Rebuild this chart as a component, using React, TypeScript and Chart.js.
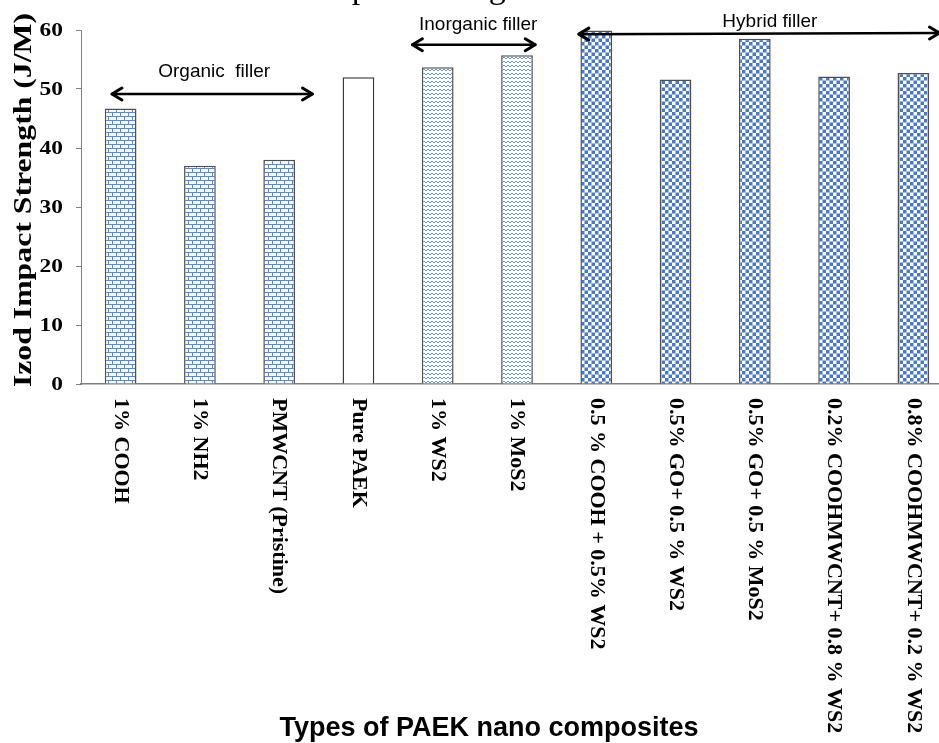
import React, { useEffect, useRef } from "react";
import { Chart, registerables } from "chart.js";

Chart.register(...registerables);

// ---- data ----
const categories = [
  "1% COOH",
  "1% NH2",
  "PMWCNT (Pristine)",
  "Pure PAEK",
  "1% WS2",
  "1% MoS2",
  "0.5 % COOH + 0.5% WS2",
  "0.5% GO+ 0.5 % WS2",
  "0.5% GO+ 0.5 % MoS2",
  "0.2% COOHMWCNT+ 0.8 % WS2",
  "0.8% COOHMWCNT+ 0.2 % WS2",
];
const impactStrength = [46.7, 37.0, 38.0, 52.0, 53.7, 55.7, 59.9, 51.6, 58.5, 52.1, 52.7];
const fillKinds = ["brick", "brick", "brick", "plain", "wave", "wave", "check", "check", "check", "check", "check"];
const yTicks = [0, 10, 20, 30, 40, 50, 60];
const yTitle = "Izod Impact Strength (J/M)";
const xTitle = "Types of PAEK nano composites";
const topTitle = "Impact Strength";
const groupLabels = ["Organic  filler", "Inorganic filler", "Hybrid filler"];
const groupArrowFrom = [-0.11, 3.68, 5.78];
const groupArrowTo = [2.42, 5.23, 10.33];
const groupArrowValL = [49.15, 57.5, 59.3];
const groupArrowValR = [49.15, 57.5, 59.5];
const groupTextIdx = [1.18, 4.51, 8.19];
const groupTextVal = [52.9, 60.85, 61.4];

const SERIF = '"Liberation Serif", "Times New Roman", serif';
const SANS = '"Liberation Sans", Arial, sans-serif';

function makePattern(kind: string): CanvasPattern | string {
  if (kind === "plain") return "#ffffff";
  const c = document.createElement("canvas");
  const g = c.getContext("2d")!;
  if (kind === "check") {
    c.width = 7; c.height = 7;
    g.fillStyle = "#ffffff"; g.fillRect(0, 0, 7, 7);
    g.fillStyle = "#4a78c2";
    g.fillRect(0, 0, 3.5, 3.5); g.fillRect(3.5, 3.5, 3.5, 3.5);
  } else if (kind === "brick") {
    c.width = 8; c.height = 8;
    g.fillStyle = "#f7faff"; g.fillRect(0, 0, 8, 8);
    g.strokeStyle = "#5a89cf"; g.lineWidth = 1;
    g.beginPath();
    g.moveTo(0, 0.5); g.lineTo(8, 0.5);
    g.moveTo(0, 4.5); g.lineTo(8, 4.5);
    g.moveTo(0.5, 0); g.lineTo(0.5, 4);
    g.moveTo(4.5, 4); g.lineTo(4.5, 8);
    g.stroke();
  } else if (kind === "wave") {
    c.width = 4; c.height = 4;
    g.fillStyle = "#ffffff"; g.fillRect(0, 0, 4, 4);
    g.strokeStyle = "#6b98d8"; g.lineWidth = 1;
    g.beginPath();
    g.moveTo(0, 1); g.lineTo(2, 3); g.lineTo(4, 1);
    g.stroke();
  }
  return g.createPattern(c, "repeat")!;
}

function drawArrow(ctx: CanvasRenderingContext2D, x1: number, y1: number, x2: number, y2: number) {
  ctx.save();
  ctx.strokeStyle = "#000";
  ctx.lineWidth = 2.5;
  ctx.lineCap = "round";
  ctx.lineJoin = "round";
  ctx.beginPath();
  ctx.moveTo(x1, y1);
  ctx.lineTo(x2, y2);
  ctx.stroke();
  const ang = Math.atan2(y2 - y1, x2 - x1);
  const L = 10, W = 6;
  const head = (x: number, y: number, a: number) => {
    const cx = Math.cos(a), sx = Math.sin(a);
    ctx.beginPath();
    ctx.moveTo(x - L * cx - W * -sx, y - L * sx - W * cx);
    ctx.lineTo(x, y);
    ctx.lineTo(x - L * cx + W * -sx, y - L * sx + W * cx);
    ctx.lineWidth = 3;
    ctx.stroke();
  };
  head(x2, y2, ang);
  head(x1, y1, ang + Math.PI);
  ctx.restore();
}

const textPlugin = {
  id: "customText",
  afterDraw(chart: any) {
    const ctx: CanvasRenderingContext2D = chart.ctx;
    const xs = chart.scales.x;
    const ys = chart.scales.y;
    const area = chart.chartArea;
    const catW = (area.right - area.left) / categories.length;
    const xAt = (idx: number) => xs.getPixelForValue(0) + idx * catW;

    ctx.save();
    ctx.fillStyle = "#000";

    // y tick labels
    ctx.font = `bold 18px ${SERIF}`;
    ctx.textAlign = "right";
    ctx.textBaseline = "middle";
    for (const v of yTicks) {
      const y = ys.getPixelForValue(v);
      ctx.save();
      ctx.translate(area.left - 18, y + 1);
      ctx.scale(1.3, 1);
      ctx.fillText(String(v), 0, 0);
      ctx.restore();
    }

    // y title
    ctx.save();
    ctx.font = `bold 25px ${SERIF}`;
    ctx.textAlign = "center";
    ctx.textBaseline = "middle";
    ctx.translate(25, (area.top + area.bottom) / 2 - 7);
    ctx.rotate(-Math.PI / 2);
    ctx.scale(1.27, 1);
    ctx.fillText(yTitle, 0, 0);
    ctx.restore();

    // x category labels (rotated, reading downward)
    ctx.font = `bold 22px ${SERIF}`;
    ctx.textAlign = "left";
    ctx.textBaseline = "middle";
    categories.forEach((lab, i) => {
      const x = xs.getPixelForValue(i);
      ctx.save();
      ctx.translate(x, area.bottom + 14);
      ctx.rotate(Math.PI / 2);
      ctx.fillText(lab, 0, 0);
      ctx.restore();
    });

    // x title
    ctx.font = `bold 27px ${SANS}`;
    ctx.textAlign = "center";
    ctx.textBaseline = "middle";
    ctx.fillText(xTitle, 489, 729);

    // top title (cut off above the canvas)
    ctx.font = `34px ${SERIF}`;
    ctx.textAlign = "left";
    ctx.textBaseline = "alphabetic";
    ctx.fillText(topTitle, 314, -2);

    // group annotations
    ctx.font = `19px ${SANS}`;
    ctx.textAlign = "center";
    ctx.textBaseline = "middle";
    groupLabels.forEach((lab, i) => {
      ctx.fillText(lab, xAt(groupTextIdx[i]), ys.getPixelForValue(groupTextVal[i]));
      drawArrow(
        ctx,
        xAt(groupArrowFrom[i]), ys.getPixelForValue(groupArrowValL[i]),
        xAt(groupArrowTo[i]), ys.getPixelForValue(groupArrowValR[i])
      );
    });

    ctx.restore();
  },
};

export default function App() {
  const ref = useRef<HTMLCanvasElement | null>(null);
  useEffect(() => {
    const canvas = ref.current!;
    const fills = fillKinds.map(makePattern);
    const borders = fillKinds.map((k) => (k === "plain" ? "#3a3a3a" : "#505050"));
    const chart = new Chart(canvas, {
      type: "bar",
      data: {
        labels: categories,
        datasets: [
          {
            data: impactStrength,
            backgroundColor: fills as any,
            borderColor: borders,
            borderWidth: 1.5,
            barPercentage: 0.4,
            categoryPercentage: 1,
          },
        ],
      },
      options: {
        responsive: false,
        animation: false,
        devicePixelRatio: 1,
        layout: { padding: { top: 30, right: 7, left: 0, bottom: 0 } },
        plugins: { legend: { display: false }, tooltip: { enabled: false }, title: { display: false } },
        scales: {
          x: {
            grid: { display: false },
            border: { display: true, color: "#7f7f7f", width: 1.5 },
            ticks: { display: false },
            afterFit: (s: any) => { s.height = 359; },
          },
          y: {
            min: 0,
            max: 60,
            ticks: { display: false, stepSize: 10 },
            grid: { drawOnChartArea: false, drawTicks: true, tickLength: 5, color: "#7f7f7f" },
            border: { display: true, color: "#7f7f7f", width: 1 },
            afterFit: (s: any) => { s.width = 81; },
          },
        },
      },
      plugins: [textPlugin],
    });
    return () => chart.destroy();
  }, []);
  return (
    <div
      style={{
        position: "fixed",
        left: 0,
        top: 0,
        width: 939,
        height: 743,
        overflow: "hidden",
        background: "#ffffff",
      }}
    >
      <canvas ref={ref} width={960} height={743} style={{ display: "block" }} />
    </div>
  );
}
